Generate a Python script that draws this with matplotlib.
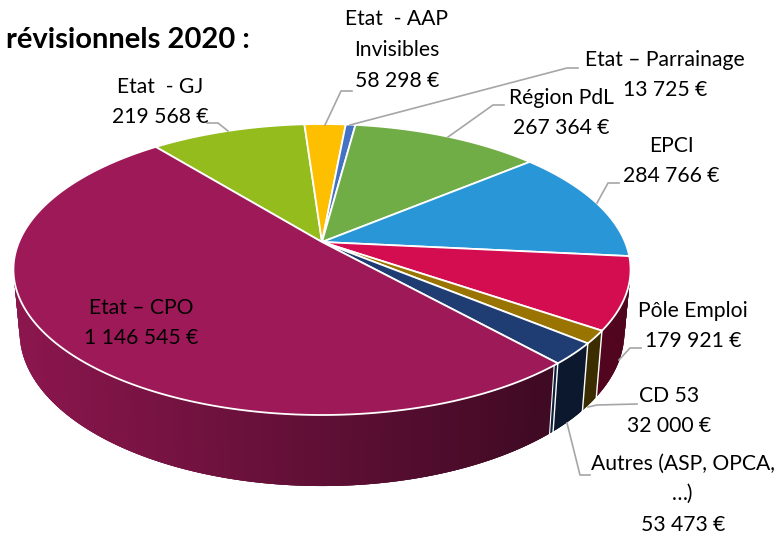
import numpy as np
import matplotlib
matplotlib.use('Agg')
import matplotlib.pyplot as plt
from matplotlib.patches import Polygon

# data, clockwise from the GJ slice
names = ['Etat  - GJ', 'Etat  - AAP\nInvisibles', 'Etat – Parrainage', 'Région PdL', 'EPCI',
         'Pôle Emploi', 'CD 53', 'Autres (ASP, OPCA,\n…)', 'Etat – CPO']
values = [219568, 58298, 13725, 267364, 284766, 179921, 32000, 53473, 1146545]
colors = ['#93bc1c', '#fdbf00', '#4472c4', '#70ad47', '#2896d7', '#d30d50', '#9a7400', '#1f3d73', '#9e1958']

# label centre (px) and leader line (px), same order as names
label_pos = [(160, 102), (397, 50), (665, 75), (561, 113), (671, 161), (693, 326), (669, 411), (683, 494), (141, 323)]
leaders = [[(207, 123), (218, 123), (228, 131)],
           [(352, 91), (341, 91), (325, 125)],
           [(578, 68), (567, 68), (350, 125)],
           [(504, 105), (493, 105), (448, 137)],
           [(619, 183), (608, 183), (597, 203)],
           [(641, 348), (630, 348), (619, 360)],
           [(637, 404), (597, 405), (588, 407)],
           [(590, 475), (580, 475), (567, 423)],
           None]

plt.rcParams['font.family'] = ['Lato', 'DejaVu Sans']

# pie geometry in pixels, perspective circle
cx, cy = 322, 242
a, b, k = 303, 140.3, 0.189
depth = 58
start = 129


def top_xy(theta):
    t = np.radians(theta)
    w = 1 + k * np.sin(t)
    return cx + a * np.cos(t) / w, cy - b * np.sin(t) / w


def bottom_xy(theta):
    x, y = top_xy(theta)
    w = 1 + k * np.sin(np.radians(theta))
    return cx + (x - cx) * 0.98, cy + (y - cy) * 0.98 + depth / w + 3


def shade(x):
    return np.interp(x, [18, 550, 630], [0.88, 0.40, 0.38])


def wall(t0, t1, col, z=2):
    x0, y0 = top_xy(t0)
    x1, y1 = top_xy(t1)
    x2, y2 = bottom_xy(t1)
    x3, y3 = bottom_xy(t0)
    ax.add_patch(Polygon([(x0, y0), (x1, y1), (x2, y2), (x3, y3)], facecolor=col, edgecolor='none', zorder=z))


def seam(t, lw=1.0):
    xa, ya = top_xy(t)
    xb, yb = bottom_xy(t)
    ax.plot([xa, xb], [ya, yb], color='white', lw=lw, zorder=3)


fig = plt.figure(figsize=(7.84, 5.37), dpi=100)
ax = fig.add_axes([0, 0, 1, 1])
ax.set_xlim(0, 784)
ax.set_ylim(537, 0)
ax.axis('off')

sweeps = np.array(values) / sum(values) * 360
ends = start - np.cumsum(sweeps)
starts = ends + sweeps

# side walls first, top faces over them; each step overlaps the next so no seams show
for s, e, c in zip(starts, ends, colors):
    th = np.arange(s, e, -0.5).tolist() + [e]
    rgb = np.array(matplotlib.colors.to_rgb(c))
    for i in range(len(th) - 1):
        t0 = th[i]
        t1 = th[min(i + 3, len(th) - 1)]
        x0, _ = top_xy(th[i])
        wall(t0, t1, rgb * shade(x0))

# thin navy strip on the CPO wall next to the Autres seam, as in the source
cpo_start = starts[-1]
wall(cpo_start, cpo_start - 0.9, '#0d1f3a', z=2.5)
for t in ends[5:8]:
    seam(t)
seam(cpo_start - 0.9, 0.8)

for s, e, c in zip(starts, ends, colors):
    th = np.linspace(s, e, 200)
    xs, ys = top_xy(th)
    pts = [(cx, cy)] + list(zip(xs, ys))
    ax.add_patch(Polygon(pts, closed=True, facecolor=c, edgecolor='white', lw=1.3, joinstyle='miter', zorder=4))

# leaders and labels
for line in leaders:
    if line is not None:
        ax.plot([p[0] for p in line], [p[1] for p in line], color='#a6a6a6', lw=1.2, zorder=5)

for n, v, (lx, ly) in zip(names, values, label_pos):
    txt = n + '\n' + f'{v:,}'.replace(',', ' ') + ' €'
    ax.text(lx, ly, txt, ha='center', va='center', fontsize=15.2, color='black', linespacing=1.66, zorder=6)

ax.text(250, 48, 'révisionnels 2020 :', ha='right', va='baseline', fontsize=21, fontweight='bold', color='black', zorder=6)

fig.savefig('out.png', dpi=100)
